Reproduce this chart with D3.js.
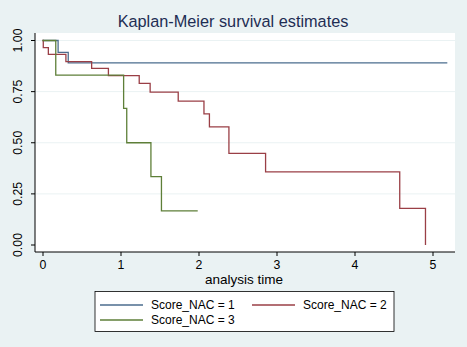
<!DOCTYPE html>
<html><head><meta charset="utf-8">
<script src="https://cdn.jsdelivr.net/npm/d3@7"></script>
<style>body{margin:0;background:#eaf2f3;}svg{display:block;font-family:"Liberation Sans",Arial,sans-serif;}</style>
</head><body><div id="chart"></div>
<script>
const title = "Kaplan-Meier survival estimates";
const xLabel = "analysis time";
const xTicks = [0,1,2,3,4,5];
const yTicks = [0,0.25,0.5,0.75,1];
const seriesNames = ["Score_NAC = 1","Score_NAC = 2","Score_NAC = 3"];
const seriesColors = ["#4b6d8e","#9a3f46","#5e7f38"];
// step points: [time, survival after time]
const nac1 = [[0,1],[0.2,0.942],[0.33,0.891],[5.19,0.891]];
const nac2 = [[0,1],[0.01,0.965],[0.075,0.932],[0.3,0.897],[0.63,0.864],[0.845,0.828],[1.24,0.79],[1.38,0.748],[1.74,0.704],[2.07,0.641],[2.14,0.578],[2.39,0.448],[2.86,0.358],[4.58,0.179],[4.91,0]];
const nac3 = [[0,1],[0.17,0.831],[1.04,0.668],[1.08,0.5],[1.39,0.334],[1.525,0.167],[1.99,0.167]];
const series = [nac1,nac2,nac3];

const W=467,H=347;
const svg=d3.select("#chart").append("svg").attr("width",W).attr("height",H);
svg.append("rect").attr("width",W).attr("height",H).attr("fill","#eaf2f3");
const plot={l:35,r:455,t:33,b:252};
svg.append("rect").attr("x",plot.l).attr("y",plot.t).attr("width",plot.r-plot.l).attr("height",plot.b-plot.t).attr("fill","#fff");
const x=d3.scaleLinear().domain([0,5]).range([42.5,432.5]);
const y=d3.scaleLinear().domain([0,1]).range([245,40.5]);

// gridlines
svg.append("g").selectAll("line").data(yTicks.filter(d=>d>0)).join("line")
 .attr("x1",plot.l).attr("x2",plot.r).attr("y1",d=>y(d)).attr("y2",d=>y(d))
 .attr("stroke","#eaf2f3").attr("stroke-width",1);

svg.append("text").attr("x",233).attr("y",27).attr("text-anchor","middle")
 .attr("font-size",16.3).attr("fill","#1e2d53").text(title);

// axes
const xa=svg.append("g").attr("transform",`translate(0,${plot.b})`)
 .call(d3.axisBottom(x).tickValues(xTicks).tickFormat(d3.format("d")).tickSize(4).tickSizeOuter(0));
xa.select(".domain").attr("d",`M${plot.l},0H${plot.r}`);
const ya=svg.append("g").attr("transform",`translate(${plot.l},0)`)
 .call(d3.axisLeft(y).tickValues(yTicks).tickFormat(d3.format(".2f")).tickSize(4).tickSizeOuter(0));
ya.select(".domain").attr("d",`M0,${plot.t}V${plot.b}`);
[xa,ya].forEach(a=>{a.selectAll(".domain,line").attr("stroke","#000");a.selectAll("text").attr("font-size",12.3).attr("fill","#000").attr("font-family","Liberation Sans,Arial,sans-serif");});
xa.selectAll("text").attr("dy","0.8em");
ya.selectAll(".tick").attr("transform",null);
ya.selectAll(".tick line").attr("y1",d=>y(d)).attr("y2",d=>y(d));
ya.selectAll("text").attr("x",-13).attr("y",d=>y(d)).attr("dy","0").attr("text-anchor","middle")
 .attr("transform",d=>`rotate(-90,-13,${y(d)})`);

svg.append("text").attr("x",244).attr("y",284).attr("text-anchor","middle").attr("font-size",13.5).attr("fill","#000").text(xLabel);

const line=d3.line().x(d=>x(d[0])).y(d=>y(d[1])).curve(d3.curveStepAfter);
svg.append("g").selectAll("path").data(series).join("path")
 .attr("d",d=>line(d)).attr("fill","none").attr("stroke",(d,i)=>seriesColors[i]).attr("stroke-width",1.3);

// legend
const lg=svg.append("g");
lg.append("rect").attr("x",95).attr("y",291.5).attr("width",299).attr("height",40).attr("fill","#fff").attr("stroke","#000").attr("stroke-width",0.8);
const pos=[[100,305],[252,305],[100,320]];
seriesNames.forEach((n,i)=>{
 const [px,py]=pos[i];
 lg.append("line").attr("x1",px).attr("x2",px+43).attr("y1",py).attr("y2",py).attr("stroke",seriesColors[i]).attr("stroke-width",1.3);
 lg.append("text").attr("x",px+51).attr("y",py+4).attr("font-size",12).attr("fill","#000").text(n);
});
</script></body></html>
